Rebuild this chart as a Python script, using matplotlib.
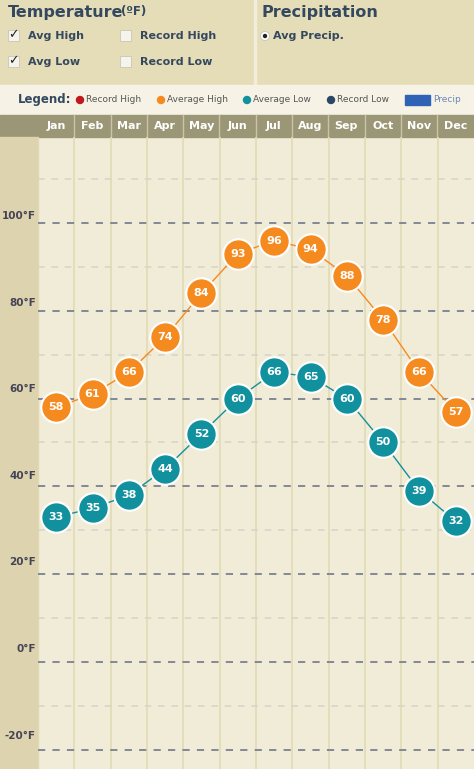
import numpy as np
import matplotlib.pyplot as plt
from matplotlib.patches import Rectangle, Circle

months = ["Jan", "Feb", "Mar", "Apr", "May", "Jun", "Jul", "Aug", "Sep", "Oct", "Nov", "Dec"]
avg_high = [58, 61, 66, 74, 84, 93, 96, 94, 88, 78, 66, 57]
avg_low = [33, 35, 38, 44, 52, 60, 66, 65, 60, 50, 39, 32]
major_ticks = [-20, 0, 20, 40, 60, 80, 100]

W, H = 474, 769
fig = plt.figure(figsize=(W / 100, H / 100), dpi=100)
fig.patch.set_facecolor("#f1ecd8")

def px(x, y, w, h):
    return [x / W, 1 - (y + h) / H, w / W, h / H]

bg = fig.add_axes([0, 0, 1, 1], zorder=0)
bg.set_xlim(0, W); bg.set_ylim(H, 0); bg.axis("off")
bg.add_patch(Rectangle((0, 0), W, 85, color="#e5dcb8"))
bg.add_patch(Rectangle((254, 0), 2, 85, color="#f3eedb"))
bg.add_patch(Rectangle((0, 85), W, 30, color="#f6f3e6"))
bg.add_patch(Rectangle((0, 115), W, 22, color="#9b9676"))
bg.add_patch(Rectangle((0, 137), 38, H - 137, color="#ddd3ae"))

dark = "#34495e"
bg.text(8, 12, "Temperature", fontsize=11.5, weight="bold", color=dark, va="center")
bg.text(121, 12, "(ºF)", fontsize=8.5, weight="bold", color=dark, va="center")
bg.text(262, 12, "Precipitation", fontsize=11.5, weight="bold", color=dark, va="center")
for (x, y, lab, on) in [(8, 36, "Avg High", True), (8, 62, "Avg Low", True),
                        (120, 36, "Record High", False), (120, 62, "Record Low", False)]:
    bg.add_patch(Rectangle((x, y - 6), 11, 11, facecolor="#f5f3ee", edgecolor="#ccc6b0", lw=0.6))
    if on:
        bg.text(x + 5, y - 1, "✓", fontsize=9, color="#222", ha="center", va="center")
    bg.text(x + 20, y, lab, fontsize=8, weight="bold", color=dark, va="center")
bg.add_patch(Circle((265, 36), 4.5, facecolor="white", edgecolor="#bbb", lw=0.5))
bg.add_patch(Circle((265, 36), 1.5, color="#222"))
bg.text(273, 36, "Avg Precip.", fontsize=8, weight="bold", color=dark, va="center")

bg.text(18, 100, "Legend:", fontsize=8.5, weight="bold", color=dark, va="center")
for x, c, lab in [(80, "#c0181b", "Record High"), (161, "#f58a1f", "Average High"),
                  (247, "#11909e", "Average Low"), (331, "#2c4766", "Record Low")]:
    bg.add_patch(Circle((x, 100), 3.5, color=c))
    bg.text(x + 6, 100, lab, fontsize=6.5, color="#555", va="center")
bg.add_patch(Rectangle((405, 95), 25, 10, color="#2f62b5"))
bg.text(433, 99, "Precip", fontsize=6.5, color="#6b86b8", va="center")

ax = fig.add_axes(px(38, 137, 436, H - 137), zorder=1)
ax.set_facecolor("#f1ecd8")
ax.set_xlim(-0.5, 11.5)
ax.set_ylim(-24.4, 119.6)
ax.axis("off")
x = np.arange(12)
for i in range(12):
    ax.axvline(i - 0.5, color="#e2dbb3", lw=1.2)
    bg.text(56 + i * 36.3, 126, months[i], fontsize=8, weight="bold", color="white",
            ha="center", va="center")
    if i > 0:
        bg.plot([38 + i * 36.3] * 2, [115, 137], color="#c9c4a8", lw=1)
for v in range(-20, 120, 10):
    if v in major_ticks:
        ax.axhline(v, color="#7a8090", lw=1.3, ls=(0, (4, 4)))
        bg.text(36, 654 - v * 4.33, f"{v}°F", fontsize=7.5, weight="bold", color="#445",
                ha="right", va="bottom")
    else:
        ax.axhline(v, color="#d8d5ca", lw=1.2, ls=(0, (4, 4)))

for data, col in [(avg_high, "#f58a1f"), (avg_low, "#11909e")]:
    ax.plot(x, data, color=col, lw=1, zorder=3)
    ax.scatter(x, data, s=480, color=col, edgecolor="white", lw=1.5, zorder=4)
    for xi, v in zip(x, data):
        ax.text(xi, v, str(v), fontsize=8, weight="bold", color="white",
                ha="center", va="center", zorder=5)

fig.savefig("out.png", dpi=100)
